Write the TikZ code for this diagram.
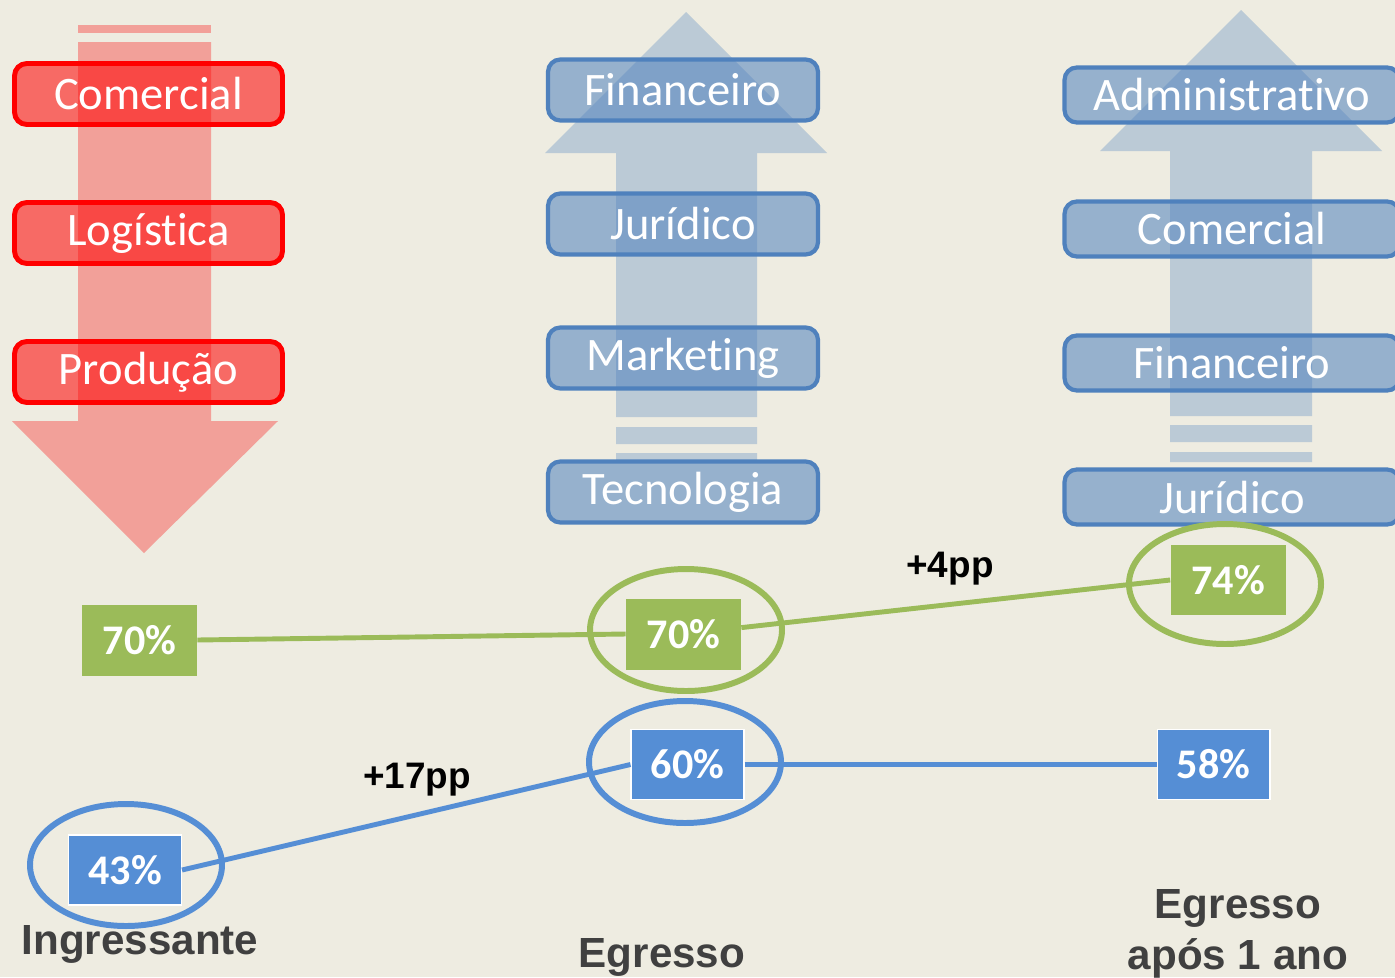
\documentclass[tikz,border=0pt]{standalone}
\usepackage{fontspec}
\setmainfont[Ligatures={NoCommon,NoContextual}, RawFeature={-liga;-clig;-calt}]{Carlito}
\newfontfamily\labelfont{Liberation Sans}
\definecolor{bg}{HTML}{EEECE1}
\definecolor{arrowred}{HTML}{F2A099}
\definecolor{arrowblue}{HTML}{BBCAD6}
\definecolor{boxblue}{HTML}{4F81BD}
\definecolor{ratgreen}{HTML}{9BBB59}
\definecolor{ratblue}{HTML}{558ED5}
\definecolor{labelgray}{HTML}{404040}
\tikzset{
  areabox/.style={line width=2.4pt, fill opacity=.55, text opacity=1, text=white,
    rounded corners=7pt, inner sep=0pt, minimum height=1.22cm,
    font=\fontsize{26.5}{30}\selectfont},
  redbox/.style={areabox, draw=red, line width=2.8pt, fill=red, minimum width=5.36cm},
  bluebox/.style={areabox, draw=boxblue, fill=boxblue, minimum width=5.4cm},
  rate/.style={text=white, inner sep=0pt, font=\fontsize{24}{28}\selectfont\bfseries},
  greenrate/.style={rate, fill=ratgreen, minimum width=2.3cm, minimum height=1.42cm},
  bluerate/.style={rate, fill=ratblue, draw=white, line width=.6pt,
    minimum width=2.26cm, minimum height=1.4cm},
  greenline/.style={draw=ratgreen, line width=2.8pt},
  blueline/.style={draw=ratblue, line width=2.8pt},
  ring/.style={line width=3.4pt},
  diff/.style={font=\labelfont\bfseries\fontsize{21}{24}\selectfont},
  stage/.style={text=labelgray, align=center,
    font=\labelfont\bfseries\fontsize{24}{28}\selectfont}
}
\begin{document}
\begin{tikzpicture}
  [x = .02cm, y = -.02cm]
  \useasboundingbox (0,0) rectangle (1395,977);
  \clip (0,0) rectangle (1395,977);
  \fill[bg] (0,0) rectangle (1395,977);
  % arrows behind the boxes
  \fill[arrowred] (78,25) rectangle (211,33);
  \fill[arrowred] (78,42) -- (211,42) -- (211,421) -- (278,421) -- (144,553)
    -- (12,421) -- (78,421) -- cycle;
  \fill[arrowblue] (686,12) -- (827,153) -- (757,153) -- (757,417) -- (616,417)
    -- (616,153) -- (545,153) -- cycle;
  \fill[arrowblue] (616,427) rectangle (757,444) (616,453) rectangle (757,462);
  \fill[arrowblue] (1241,10) -- (1382,151) -- (1312,151) -- (1312,416) -- (1170,416)
    -- (1170,151) -- (1100,151) -- cycle;
  \fill[arrowblue] (1170,425) rectangle (1312,442) (1170,452) rectangle (1312,462);
  % areas
  \foreach \area [count = \i] in {Comercial, Logística, Produção}
    \node[redbox] (r\i) at (148.5, 94+139*\i-139) {\area};
  \foreach \area [count = \i] in {Financeiro, Jurídico, Marketing, Tecnologia}
    \node[bluebox] (m\i) at (683, 90+134*\i-134) {\area};
  \foreach \area [count = \i] in {Administrativo, Comercial, Financeiro, Jurídico}
    \node[bluebox, minimum width=6.7cm, minimum height=1.1cm]
      (a\i) at (1232, 95+134*\i-134) {\area};
  % rates
  \node[greenrate] (g1) at (139.5,640) {70\%};
  \node[greenrate] (g2) at (683.5,634) {70\%};
  \node[greenrate, minimum height=1.4cm] (g3) at (1228,580) {74\%};
  \node[bluerate] (b1) at (125,870) {43\%};
  \node[bluerate] (b2) at (687.5,764.5) {60\%};
  \node[bluerate] (b3) at (1213.5,764.5) {58\%};
  \draw[greenline] (g1.east) -- (g2.west);
  \draw[greenline] (g2) -- (g3.west);
  \draw[blueline] (b1.east) -- (b2.west);
  \draw[blueline] (b2.east) -- (b3.west);
  \draw[ring, ratgreen] (686,630) ellipse [x radius=96, y radius=61];
  \draw[ring, ratgreen] (1225,584) ellipse [x radius=96, y radius=60];
  \draw[ring, ratblue] (126,865) ellipse [x radius=96, y radius=61];
  \draw[ring, ratblue] (685,762) ellipse [x radius=96, y radius=61];
  \node[diff] (d1) at (950,569) {+4pp};
  \node[diff] (d2) at (417,780) {+17pp};
  % stages
  \node[stage] (s1) at (140,944) {Ingressante};
  \node[stage] (s2) at (662,957) {Egresso};
  \node[stage] (s3) at (1238,934) {Egresso\\[1pt]após 1 ano};
\end{tikzpicture}
\end{document}
